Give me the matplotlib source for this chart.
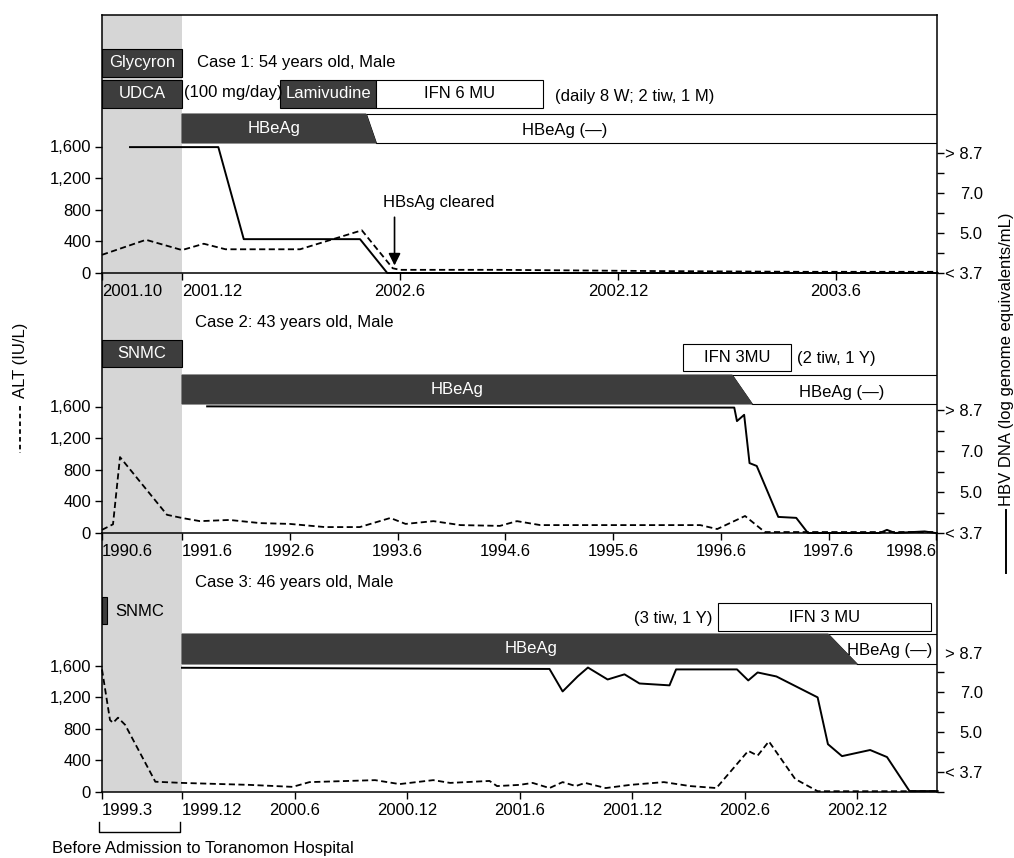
import numpy as np
import matplotlib
matplotlib.use("Agg")
import matplotlib.pyplot as plt
from matplotlib.patches import Polygon, Rectangle
from matplotlib.lines import Line2D

plt.rcParams["font.family"] = ["Liberation Sans", "DejaVu Sans"]
plt.rcParams["font.size"] = 12

# ---- data: x in months counted from January of the first year ----
# Case 1 (months from 2001.0)
c1_alt_m = [10, 11.1, 12, 12.6, 13.2, 15.25, 16.1, 16.95, 17.8, 18.0, 20.75, 24.9, 29.0, 32.8]
c1_alt = [230, 420, 290, 370, 300, 300, 420, 540, 60, 40, 40, 25, 15, 15]
c1_hbv_m = [10.7, 13.0, 13.7, 16.9, 17.65, 32.8]
c1_hbv = [8.95, 8.95, 4.8, 4.8, 3.7, 3.7]
c1_ticks = [10, 12, 18, 24, 30]
c1_ticklabels = ["2001.10", "2001.12", "2002.6", "2002.12", "2003.6"]
c1_treat = [("Glycyron", 10, 12, True), ("UDCA", 10, 12, True),
            ("Lamivudine", 14.7, 17.34, True), ("IFN 6 MU", 17.34, 21.94, False)]
c1_hbeag_end = (17.06, 17.34)
c1_hbsag_cleared = 17.85

# Case 2 (months from 1990.0)
c2_alt_m = [6, 7.65, 8.7, 15.75, 18, 20.0, 23.3, 26.7, 30.0, 33.9, 37.8, 41.2, 42.9,
            46.0, 49.0, 53.4, 55.3, 57.9, 64.5, 75.7, 77.6, 80.7, 82.9, 86.8, 101.9]
c2_alt = [40, 110, 960, 230, 190, 150, 165, 125, 115, 75, 75, 190, 115,
          150, 100, 90, 150, 100, 100, 100, 50, 215, 12, 12, 12]
c2_hbv_m = [20.8, 79.5, 79.8, 80.6, 81.2, 82.0, 84.4, 86.4, 87.7, 95.7, 96.5, 97.4, 100.7, 101.9]
c2_hbv = [8.85, 8.8, 8.24, 8.5, 6.41, 6.27, 4.21, 4.18, 3.7, 3.7, 3.8, 3.7, 3.75, 3.7]
c2_ticks = [6, 18, 30, 42, 54, 66, 78, 90, 102]
c2_ticklabels = ["1990.6", "1991.6", "1992.6", "1993.6", "1994.6",
                 "1995.6", "1996.6", "1997.6", "1998.6"]
c2_treat = [("SNMC", 6, 18, True), ("IFN 3MU", 73.8, 85.8, False)]
c2_hbeag_end = (79.25, 81.5)

# Case 3 (months from 1999.0)
c3_alt_m = [3.0, 3.9, 4.24, 4.8, 5.6, 9.0, 12.0, 15.6, 17.9, 18.8, 22.3, 23.6, 25.4, 26.3,
            28.4, 28.8, 30.0, 30.7, 31.6, 32.3, 33.0, 33.5, 34.6, 35.9, 37.7, 39.1, 40.5,
            42.2, 42.7, 43.3, 44.7, 45.9, 52.3]
c3_alt = [1550, 910, 875, 940, 850, 130, 115, 90, 65, 125, 150, 100, 150, 115,
          140, 75, 90, 115, 50, 125, 75, 115, 50, 90, 125, 75, 50,
          520, 460, 640, 165, 10, 10]
c3_hbv_m = [12.0, 31.6, 32.3, 33.1, 33.65, 34.7, 35.6, 36.4, 38.0, 38.35, 41.6, 42.2, 42.7,
            43.7, 45.9, 46.45, 47.2, 48.7, 49.6, 50.8, 52.3]
c3_hbv = [8.05, 8.0, 7.04, 7.68, 8.06, 7.55, 7.77, 7.38, 7.3, 7.98, 7.98, 7.51, 7.85,
          7.68, 6.75, 4.61, 4.22, 4.42, 4.19, 3.08, 3.08]
c3_ticks = [3, 12, 18, 24, 30, 36, 42, 48]
c3_ticklabels = ["1999.3", "1999.12", "2000.6", "2000.12", "2001.6",
                 "2001.12", "2002.6", "2002.12"]
c3_treat = [("", 3, 3.6, True), ("IFN 3 MU", 40.6, 51.95, False)]
c3_hbeag_end = (46.45, 48.0)

alt_ticks = [0, 400, 800, 1200, 1600]
alt_ticklabels = ["0", "400", "800", "1,200", "1,600"]
hbv_levels = [3.7, 5.0, 7.0, 8.7]
hbv_ticklabels = ["< 3.7", "5.0", "7.0", "> 8.7"]

# ---- layout (pixels) ----
W, H = 1014, 858
X0, X1 = 102, 937
BAND_PX = 80
ALT_PER_PX = 1600 / 126.5
DARK = "#3d3d3d"
BAND = "#d6d6d6"

fig = plt.figure(figsize=(W / 100, H / 100), dpi=100)


def ftext(x, y, s, **kw):
    kw.setdefault("zorder", 10)
    return fig.text(x / W, 1 - y / H, s, **kw)


def fline(xs, ys, **kw):
    fig.add_artist(Line2D([x / W for x in xs], [1 - y / H for y in ys],
                          color="black", **kw))


def month_scale(start, adm, rate):
    band_rate = BAND_PX / (adm - start)

    def fwd(m):
        m = np.asarray(m, dtype=float)
        return np.where(m < adm, (m - start) * band_rate, BAND_PX + (m - adm) * rate)

    def inv(p):
        p = np.asarray(p, dtype=float)
        return np.where(p < BAND_PX, start + p / band_rate, adm + (p - BAND_PX) / rate)

    return fwd, inv


# HBV DNA axis: labelled levels are evenly spaced on the axis
HBV_POS = [0, 2, 4, 6]


def hbv_fwd(v):
    v = np.asarray(v, dtype=float)
    p = np.interp(v, hbv_levels, HBV_POS)
    p = np.where(v < 3.7, (v - 3.7) / 0.65, p)
    return np.where(v > 8.7, 6 + (v - 8.7) / 0.85, p)


def hbv_inv(p):
    p = np.asarray(p, dtype=float)
    v = np.interp(p, HBV_POS, hbv_levels)
    v = np.where(p < 0, 3.7 + p * 0.65, v)
    return np.where(p > 6, 8.7 + (p - 6) * 0.85, v)


def make_panel(top, base, start, adm, rate, hbv_zero, hbv_px, z):
    ax = fig.add_axes([X0 / W, 1 - base / H, (X1 - X0) / W, (base - top) / H])
    ax.set_zorder(z)
    ax.patch.set_visible(False)
    fwd, inv = month_scale(start, adm, rate)
    ax.set_xscale("function", functions=(fwd, inv))
    ax.set_xlim(start, float(inv(X1 - X0)))
    ax.set_ylim(0, (base - top) * ALT_PER_PX)
    ax.axvspan(start, adm, facecolor=BAND, lw=0, zorder=0)

    ax2 = ax.twinx()
    ax2.set_zorder(z + 0.05)
    ax2.set_yscale("function", functions=(hbv_fwd, hbv_inv))
    lo = -(base - hbv_zero) / hbv_px
    hi = lo + (base - top) / hbv_px
    ax2.set_ylim(float(hbv_inv(lo)), float(hbv_inv(hi)))

    for s in ax.spines.values():
        s.set_linewidth(1.1)
    ax.spines["top"].set_visible(False)
    for s in ax2.spines.values():
        s.set_visible(False)

    ax.set_yticks(alt_ticks)
    ax.set_yticklabels(alt_ticklabels)
    ax.tick_params(axis="both", direction="out", length=5, width=1, pad=3, labelsize=12)
    ax2.set_yticks(hbv_levels)
    ax2.set_yticklabels(hbv_ticklabels)
    ax2.set_yticks([4.35, 6.0, 7.85], minor=True)
    ax2.tick_params(axis="y", which="both", direction="out", length=5, width=1,
                    pad=28, labelsize=12)
    for lab in ax2.get_yticklabels():
        lab.set_horizontalalignment("right")
    return ax, ax2, base, top


def yfrac(panel, ypx):
    _, _, base, top = panel
    return (base - ypx) / (base - top)


def draw_treatments(panel, treat, rows):
    ax = panel[0]
    tr = ax.get_xaxis_transform()
    for (label, s, e, filled), (ya, yb) in zip(treat, rows):
        y0, y1 = yfrac(panel, yb), yfrac(panel, ya)
        ax.add_patch(Rectangle((s, y0), e - s, y1 - y0, transform=tr,
                               facecolor=DARK if filled else "white",
                               edgecolor="black", lw=0.8, zorder=2))
        if label:
            ax.text((s + e) / 2, (y0 + y1) / 2, label, transform=tr, ha="center",
                    va="center", color="white" if filled else "black",
                    fontsize=12, zorder=3)


def draw_hbeag(panel, start, end_top, end_bot, row, label_x=None):
    ax = panel[0]
    tr = ax.get_xaxis_transform()
    xmax = ax.get_xlim()[1]
    ya, yb = yfrac(panel, row[0]), yfrac(panel, row[1])
    ax.add_patch(Polygon([(end_top, ya), (xmax, ya), (xmax, yb), (end_bot, yb)],
                         closed=True, transform=tr, facecolor="white",
                         edgecolor="black", lw=0.8, zorder=2))
    ax.add_patch(Polygon([(start, ya), (end_top, ya), (end_bot, yb), (start, yb)],
                         closed=True, transform=tr, facecolor=DARK,
                         edgecolor=DARK, lw=0.8, zorder=2))
    lx = label_x if label_x is not None else (start + end_top) / 2
    ax.text(lx, (ya + yb) / 2, "HBeAg", transform=tr, ha="center", va="center",
            color="white", fontsize=12, zorder=3)


def draw_series(panel, alt_m, alt, hbv_m, hbv, ticks, ticklabels):
    ax, ax2 = panel[0], panel[1]
    ax.plot(alt_m, alt, color="black", lw=1.3, ls=(0, (3.4, 1.9)), clip_on=False, zorder=4)
    ax2.plot(hbv_m, hbv, color="black", lw=1.4, clip_on=False, zorder=4)
    ax.set_xticks(ticks)
    ax.set_xticklabels(ticklabels)
    # the start date and the admission date are written to the right of their ticks
    for lab in ax.get_xticklabels()[:2]:
        lab.set_horizontalalignment("left")


# ---- Case 1 ----
p1 = make_panel(15, 273, 10, 12, 36.33, 273, 20, 0.9)
p1[0].spines["top"].set_visible(True)
draw_treatments(p1, c1_treat, [(49, 77), (80, 108), (80, 108), (80, 108)])
draw_hbeag(p1, 12, c1_hbeag_end[0], c1_hbeag_end[1], (114, 143))
draw_series(p1, c1_alt_m, c1_alt, c1_hbv_m, c1_hbv, c1_ticks, c1_ticklabels)
p1[0].annotate("", xy=(c1_hbsag_cleared, 95), xytext=(c1_hbsag_cleared, 705),
               arrowprops=dict(arrowstyle="-|>", color="black", lw=1.2,
                               mutation_scale=18, shrinkA=0, shrinkB=0), zorder=5)
ftext(197, 62, "Case 1: 54 years old, Male", va="center")
ftext(184, 93, "(100 mg/day)", va="center")
ftext(555, 97, "(daily 8 W; 2 tiw, 1 M)", va="center")
ftext(565, 130, "HBeAg (\u2014)", ha="center", va="center")
ftext(383, 203, "HBsAg cleared", va="center")

# ---- Case 2 ----
p2 = make_panel(273, 533, 6, 18, 8.98, 533, 20.5, 0.6)
draw_treatments(p2, c2_treat, [(340, 367), (344, 371)])
draw_hbeag(p2, 18, c2_hbeag_end[0], c2_hbeag_end[1], (375, 404))
draw_series(p2, c2_alt_m, c2_alt, c2_hbv_m, c2_hbv, c2_ticks, c2_ticklabels)
p2[0].get_xticklabels()[-1].set_horizontalalignment("right")
ftext(195, 322, "Case 2: 43 years old, Male", va="center")
ftext(797, 359, "(2 tiw, 1 Y)", va="center")
ftext(842, 392, "HBeAg (\u2014)", ha="center", va="center")

# ---- Case 3 ----
p3 = make_panel(533, 792, 3, 12, 18.75, 773, 20, 0.3)
draw_treatments(p3, c3_treat, [(597, 624), (603, 631)])
draw_hbeag(p3, 12, c3_hbeag_end[0], c3_hbeag_end[1], (634, 664), label_x=30.6)
draw_series(p3, c3_alt_m, c3_alt, c3_hbv_m, c3_hbv, c3_ticks, c3_ticklabels)
p3[1].set_yticks([3.05, 4.35, 6.0, 7.85], minor=True)
p3[1].yaxis.get_major_ticks()[-1].tick2line.set_visible(False)
ftext(195, 582, "Case 3: 46 years old, Male", va="center")
ftext(115, 611, "SNMC", va="center")
ftext(712, 618, "(3 tiw, 1 Y)", ha="right", va="center")
ftext(890, 650, "HBeAg (\u2014)", ha="center", va="center")

# bracket marking the pre-admission period
fline([99, 99, 180, 180], [822, 832, 832, 822], lw=1)
ftext(52, 848, "Before Admission to Toranomon Hospital", va="center")

# axis titles with line-style keys
ftext(21, 360, "ALT (IU/L)", rotation=90, ha="center", va="center")
fline([20, 20], [406, 453], lw=1.3, ls=(0, (2.5, 1.8)))
ftext(1007, 359, "HBV DNA (log genome equivalents/mL)", rotation=90,
      ha="center", va="center")
fline([1006, 1006], [510, 573], lw=1.4)

fig.savefig("out.png", dpi=100)
